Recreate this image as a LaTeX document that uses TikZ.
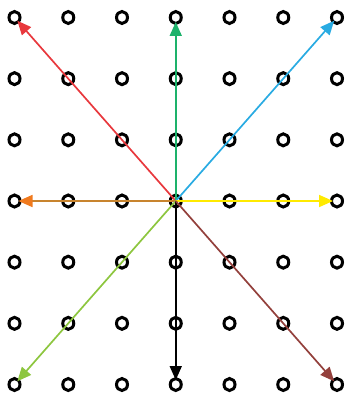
\documentclass[tikz,border=0pt]{standalone}
\usetikzlibrary{shapes.geometric,arrows.meta}
\definecolor{cRed}{HTML}{E8383D}
\definecolor{cGreen}{HTML}{1DB26B}
\definecolor{cCyan}{HTML}{29ABE2}
\definecolor{cOrange}{HTML}{F07A1E}
\definecolor{cOrangeLine}{HTML}{C8842E}
\definecolor{cYellow}{HTML}{FFEA00}
\definecolor{cLGreen}{HTML}{8DC63F}
\definecolor{cBrown}{HTML}{93403C}
\tikzset{
  dot/.style={ellipse,draw=black,line width=3pt,minimum width=11pt,minimum height=12pt,inner sep=0pt,fill=none},
  arr/.style={line width=1.7pt,-{Triangle[length=14pt,width=12pt]},shorten >=-3pt},
}
\begin{document}
\begin{tikzpicture}[x=1pt,y=-1pt]
\useasboundingbox (0,0) rectangle (347,396);
\foreach \i in {0,...,6}{
  \foreach \j in {0,...,6}{
    \node[dot] (c-\i-\j) at ({14.5+53.75*\i},{17.5+61.17*\j}) {};
  }
}
\draw[arr,cRed] (c-3-3.center) -- (c-0-0);
\draw[arr,cGreen] (c-3-3.center) -- (c-3-0);
\draw[arr,cCyan] (c-3-3.center) -- (c-6-0);
\draw[arr,draw=cOrangeLine,-{Triangle[length=14pt,width=12pt,fill=cOrange,color=cOrange]}] (c-3-3.center) -- (c-0-3);
\draw[arr,cYellow] (c-3-3.center) -- (c-6-3);
\draw[arr,cLGreen] (c-3-3.center) -- (c-0-6);
\draw[arr,black] (c-3-3.center) -- (c-3-6);
\draw[arr,cBrown] (c-3-3.center) -- (c-6-6);
\end{tikzpicture}
\end{document}
